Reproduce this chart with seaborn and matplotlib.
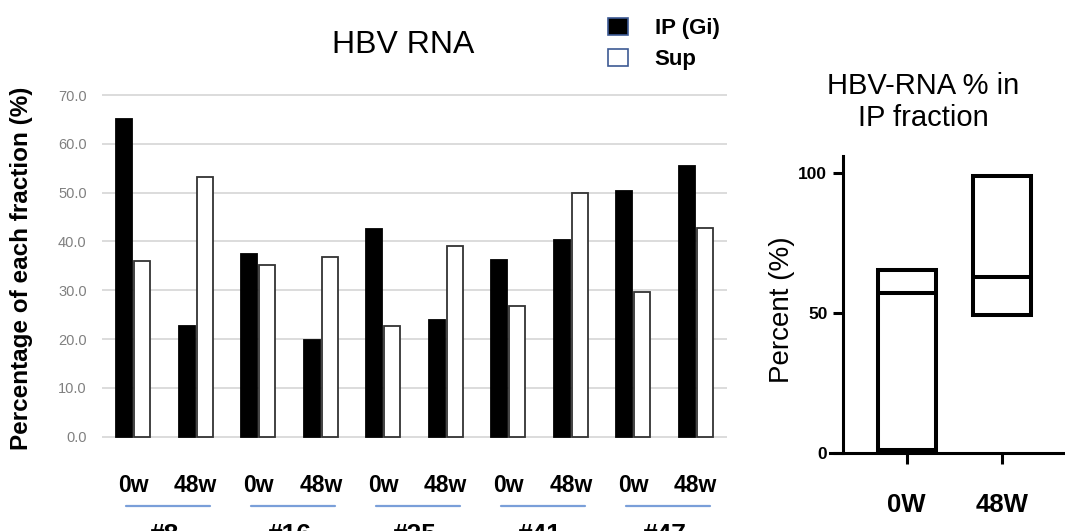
import pandas as pd
import numpy as np
import matplotlib
matplotlib.use("Agg")
import matplotlib.pyplot as plt
import matplotlib.transforms as mtransforms
from matplotlib.patches import Patch
import seaborn as sns

# Data
patients = ['#8', '#16', '#25', '#41', '#47']
weeks = ['0w', '48w']
ip_pct = [65.0, 22.7, 37.4, 19.8, 42.5, 23.9, 36.2, 40.4, 50.4, 55.5]
sup_pct = [36.0, 53.3, 35.2, 36.9, 22.7, 39.1, 26.8, 50.0, 29.7, 42.8]
fractions = ['IP (Gi)', 'Sup']

# right panel: floating bars (min to max) with a median line
groups = ['0W', '48W']
lows = [1.0, 49.3]
highs = [65.3, 99.1]
medians = [57.0, 62.8]

samples = [f'{p} {w}' for p in patients for w in weeks]
df = pd.DataFrame({
    'sample': samples * 2,
    'fraction': [fractions[0]] * len(samples) + [fractions[1]] * len(samples),
    'pct': ip_pct + sup_pct,
})

sns.set_theme(style='white')
plt.rcParams['font.family'] = ['Liberation Sans', 'DejaVu Sans']
plt.rcParams['text.color'] = 'black'
plt.rcParams['xtick.color'] = 'black'
plt.rcParams['ytick.color'] = 'black'

W, H = 1065, 531
fig = plt.figure(figsize=(W / 100, H / 100), dpi=100)

# ---- left panel: grouped bars ----
ax = fig.add_axes([102 / W, 92.8 / H, 625 / W, 344.6 / H])
sns.barplot(data=df, x='sample', y='pct', hue='fraction', order=samples,
            hue_order=fractions, palette={'IP (Gi)': 'black', 'Sup': 'white'},
            width=0.59, gap=0.13, errorbar=None, legend=False,
            linewidth=1.3, ax=ax)
for bar in ax.containers[0]:
    bar.set_edgecolor('black')
for bar in ax.containers[1]:
    bar.set_edgecolor('#333333')

ax.set_xlim(-0.5, len(samples) - 0.5)
ax.set_ylim(-0.3, 70.3)
ax.set_yticks(np.arange(0, 71, 10))
ax.set_yticklabels([f'{v:.1f}' for v in np.arange(0, 71, 10)])
ax.yaxis.grid(True, color='#d9d9d9', linewidth=1.3)
ax.set_axisbelow(True)
for s in ax.spines.values():
    s.set_visible(False)
ax.set_xlabel('')
ax.set_ylabel('')
ax.set_xticks(range(len(samples)))
ax.set_xticklabels(weeks * len(patients), fontweight='bold', fontsize=16.5)
ax.tick_params(axis='x', length=0, pad=26, labelcolor='black')
ax.tick_params(axis='y', length=0, pad=11, labelsize=10.5, labelcolor='#808080')

# patient group lines + labels
trans = mtransforms.blended_transform_factory(ax.transData, ax.transAxes)
for i, p in enumerate(patients):
    x0, x1 = 2 * i - 0.12, 2 * i + 1.22
    ax.plot([x0, x1], [-0.197, -0.197], color='#7a9fd9', lw=1.6,
            transform=trans, clip_on=False)
    ax.text((x0 + x1) / 2 - 0.05, -0.247, p, transform=trans, ha='center',
            va='top', fontsize=19, fontweight='bold', clip_on=False)

fig.text(403 / W, 1 - 45 / H, 'HBV RNA', ha='center', va='center', fontsize=23)
fig.text(22 / W, 1 - 268 / H, 'Percentage of each fraction (%)', rotation=90,
         ha='center', va='center', fontsize=17.5, fontweight='bold')

handles = [Patch(facecolor='black', edgecolor='#3d5a94', linewidth=1.2),
           Patch(facecolor='white', edgecolor='#3d5a94', linewidth=1.2)]
fig.legend(handles, fractions, loc='upper left', bbox_to_anchor=(608 / W, 1 - 18 / H),
           frameon=False, handlelength=0.9, handleheight=0.8, handletextpad=1.2,
           labelspacing=0.45, borderpad=0, borderaxespad=0,
           prop={'weight': 'bold', 'size': 16})

# ---- right panel: floating bars ----
ax2 = fig.add_axes([830 / W, 78.3 / H, 235 / W, 296.7 / H])
xpos = np.arange(len(groups))
bw = 0.61
ax2.bar(xpos, np.array(highs) - np.array(lows), bottom=lows, width=bw,
        facecolor='white', edgecolor='black', linewidth=2.9)
ax2.hlines(medians, xpos - bw / 2, xpos + bw / 2, colors='black', linewidth=2.9)
ax2.set_xlim(-0.807, 1.666)
ax2.set_ylim(0, 106.2)
ax2.spines['top'].set_visible(False)
ax2.spines['right'].set_visible(False)
ax2.spines['left'].set_position(('data', -0.674))
for s in ['left', 'bottom']:
    ax2.spines[s].set_linewidth(2.2)
    ax2.spines[s].set_color('black')
ax2.set_yticks([0, 50, 100])
ax2.set_yticklabels(['0', '50', '100'], fontweight='bold', fontsize=12.5)
ax2.set_xticks(xpos)
ax2.set_xticklabels(groups, fontweight='bold', fontsize=18.5)
ax2.tick_params(axis='y', length=7, width=2.2, pad=4, color='black', left=True)
ax2.tick_params(axis='x', length=8, width=2.2, pad=21, color='black', bottom=True)
ax2.set_facecolor('none')

fig.text(923 / W, 1 - 102 / H, 'HBV-RNA % in\nIP fraction', ha='center',
         va='center', fontsize=21)
fig.text(782 / W, 1 - 310 / H, 'Percent (%)', rotation=90, ha='center',
         va='center', fontsize=20)

fig.savefig('out.png', dpi=100)
